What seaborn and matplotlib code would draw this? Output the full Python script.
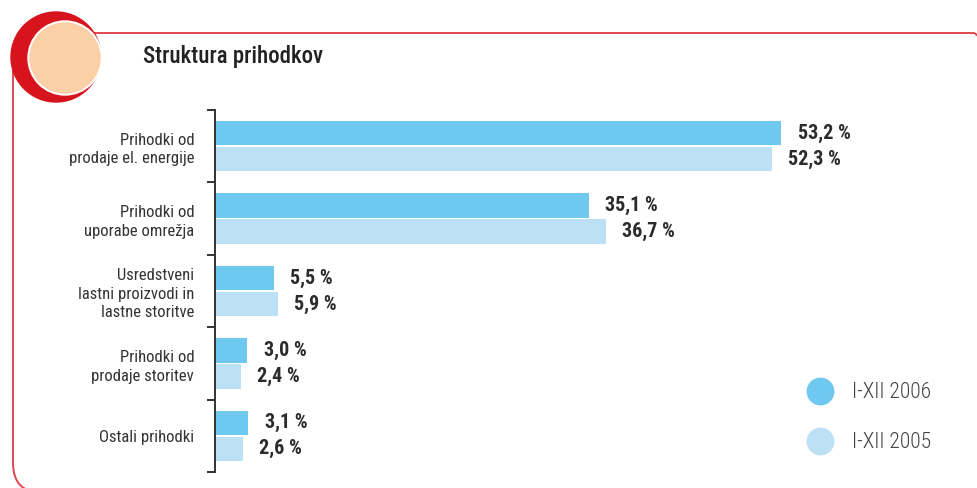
import matplotlib
matplotlib.use("Agg")
import matplotlib.pyplot as plt
import seaborn as sns
import pandas as pd
from matplotlib.lines import Line2D
from matplotlib.patches import Circle, FancyBboxPatch
from matplotlib.ticker import FixedLocator

# podatki
kategorije = [
    "Prihodki od\nprodaje el. energije",
    "Prihodki od\nuporabe omrežja",
    "Usredstveni\nlastni proizvodi in\nlastne storitve",
    "Prihodki od\nprodaje storitev",
    "Ostali prihodki",
]
leto_2006 = [53.2, 35.1, 5.5, 3.0, 3.1]
leto_2005 = [52.3, 36.7, 5.9, 2.4, 2.6]
serije = ["I-XII 2006", "I-XII 2005"]
barve = ["#6EC8F0", "#BCE0F6"]

df = pd.DataFrame({
    "Kategorija": kategorije * 2,
    "Delež": leto_2006 + leto_2005,
    "Obdobje": [serije[0]] * len(kategorije) + [serije[1]] * len(kategorije),
})

sns.set_style("white")
plt.rcParams["font.family"] = ["Roboto Condensed", "Roboto", "DejaVu Sans"]

W, H = 977, 488
fig = plt.figure(figsize=(W / 100, H / 100), dpi=100)

# okvir in krog (v pikslih, y od spodaj navzgor)
deco = fig.add_axes([0, 0, 1, 1], zorder=0)
deco.set_xlim(0, W)
deco.set_ylim(0, H)
deco.axis("off")
deco.add_patch(FancyBboxPatch((13, H - 493), 990, 460,
                              boxstyle="round,pad=0,rounding_size=30",
                              fill=False, ec="#E04650", lw=1.4, clip_on=False))
deco.add_patch(Circle((56, H - 57), 45, color="#D7141E"))
deco.add_patch(Circle((65, H - 58), 37, color="white"))
deco.add_patch(Circle((65, H - 58), 35, color="#FCD0A6"))
deco.text(143, H - 57, "Struktura prihodkov", fontsize=16.5, fontweight="medium",
          color="#222222", va="center", ha="left")

ax = fig.add_axes([215 / W, 16 / H, 745 / W, 362 / H], zorder=1)
ax.patch.set_alpha(0)
sns.barplot(data=df, y="Kategorija", x="Delež", hue="Obdobje",
            palette=barve, saturation=1, orient="h", width=0.72, gap=0.06,
            linewidth=0, legend=False, ax=ax)

for cont, vals in zip(ax.containers, [leto_2006, leto_2005]):
    ax.bar_label(cont, labels=[f"{v:.1f}".replace(".", ",") + " %" for v in vals],
                 padding=12, fontsize=14.5, fontweight="bold", color="#2b2b2b")

ax.set_xlim(0, 70)
ax.set_ylim(len(kategorije) - 0.5, -0.5)
ax.set_xlabel("")
ax.set_ylabel("")
ax.set_xticks([])
sns.despine(ax=ax, top=True, right=True, bottom=True)
ax.spines["left"].set_color("#333333")
ax.spines["left"].set_linewidth(1.4)
ax.yaxis.set_minor_locator(FixedLocator([i - 0.5 for i in range(len(kategorije) + 1)]))
ax.tick_params(axis="y", which="major", length=0, pad=15, labelsize=12,
               labelcolor="#333333")
ax.tick_params(axis="y", which="minor", length=6, width=1.4, color="#333333",
               direction="out", left=True)
plt.setp(ax.get_yticklabels(), linespacing=1.3)

roc = [Line2D([0], [0], marker="o", ls="", markersize=19,
              markerfacecolor=b, markeredgecolor=b) for b in barve]
fig.legend(roc, serije, loc="upper left", bbox_to_anchor=(779 / W, 1 - 363 / H),
           frameon=False, prop={"size": 15.5, "weight": "light"},
           labelcolor="#444444", labelspacing=1.35, handletextpad=0.5)

fig.savefig("out.png", dpi=100)
